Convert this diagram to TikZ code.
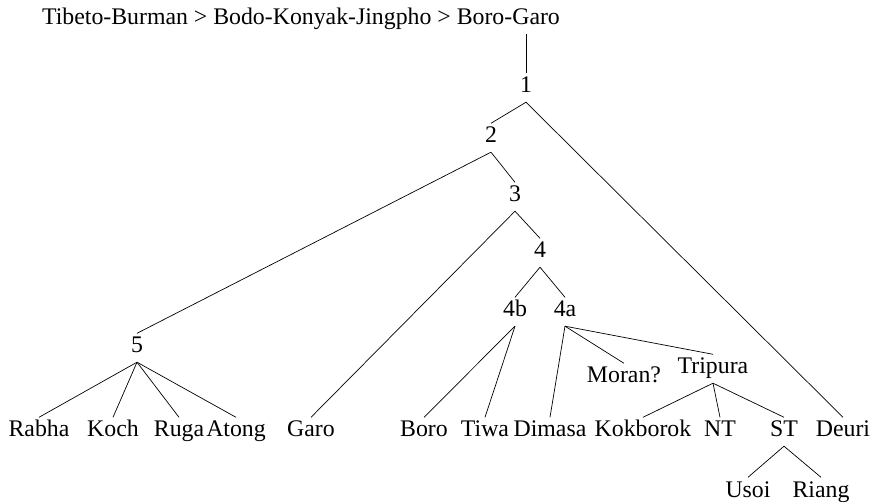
\documentclass[tikz,border=0pt]{standalone}
\usepackage{fontspec}
\setmainfont{Liberation Serif}

\begin{document}
\begin{tikzpicture}[x=1pt,y=-1pt,
    lang/.style={anchor=base,inner sep=4pt,text height=15.5pt,text depth=5pt,font=\fontsize{23.8}{28}\selectfont},
    branch/.style={line width=0.7pt}]
    \useasboundingbox (0,0) rectangle (873,502);
    % inner nodes
    \node[lang] (top) at (301,25) {Tibeto-Burman > Bodo-Konyak-Jingpho > Boro-Garo};
    \node[lang] (n1) at (526,93) {1};
    \node[lang] (n2) at (491,143) {2};
    \node[lang] (n3) at (515,202) {3};
    \node[lang] (n4) at (540,258) {4};
    \node[lang] (n4b) at (515,317) {4b};
    \node[lang] (n4a) at (565,317) {4a};
    \node[lang] (n5) at (137,353) {5};
    \node[lang] (moran) at (624,383) {Moran?};
    \node[lang] (tripura) at (713,374) {Tripura};
    % leaves
    \node[lang] (rabha) at (39,437) {Rabha};
    \node[lang] (koch) at (113,437) {Koch};
    \node[lang] (ruga) at (179,437) {Ruga};
    \node[lang] (atong) at (236,437) {Atong};
    \node[lang] (garo) at (311,437) {Garo};
    \node[lang] (boro) at (424,437) {Boro};
    \node[lang] (tiwa) at (485,437) {Tiwa};
    \node[lang] (dimasa) at (550,437) {Dimasa};
    \node[lang] (kokborok) at (643,437) {Kokborok};
    \node[lang] (nt) at (720,437) {NT};
    \node[lang] (st) at (784,437) {ST};
    \node[lang] (deuri) at (843,437) {Deuri};
    \node[lang] (usoi) at (748,497) {Usoi};
    \node[lang] (riang) at (821,497) {Riang};

    \draw[branch] (top.south -| n1) -- (n1.north);
    \draw[branch] (n1.south) -- (n2.north);
    \draw[branch] (n1.south) -- (deuri.north);
    \draw[branch] (n2.south) -- (n5.north);
    \draw[branch] (n2.south) -- (n3.north);
    \draw[branch] (n3.south) -- (garo.north);
    \draw[branch] (n3.south) -- (n4.north);
    \draw[branch] (n4.south) -- (n4b.north);
    \draw[branch] (n4.south) -- (n4a.north);
    \foreach \c in {rabha,koch,ruga,atong}
        \draw[branch] (n5.south) -- (\c.north);
    \foreach \c in {boro,tiwa}
        \draw[branch] (n4b.south) -- (\c.north);
    \foreach \c in {dimasa,moran,tripura}
        \draw[branch] (n4a.south) -- (\c.north);
    \foreach \c in {kokborok,nt,st}
        \draw[branch] (tripura.south) -- (\c.north);
    \foreach \c in {usoi,riang}
        \draw[branch] (st.south) -- (\c.north);
\end{tikzpicture}
\end{document}
